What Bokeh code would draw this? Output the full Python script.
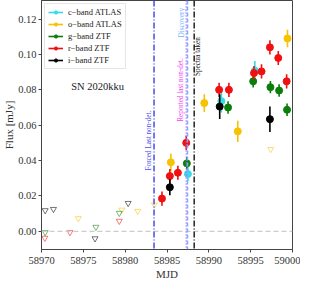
from bokeh.plotting import figure
from bokeh.models import ColumnDataSource, Span, Legend, LegendItem, Range1d, FixedTicker
from bokeh.embed import file_html
from bokeh.resources import INLINE
from bokeh.core.properties import value

# ---- detections (MJD, flux [mJy], error) ----
c_mjd = [58987.5, 58991.5, 58995.5]
c_flux = [0.0324, 0.0736, 0.0908]
c_err = [0.004, 0.0065, 0.0055]

o_mjd = [58985.46, 58989.46, 58993.46, 58999.4]
o_flux = [0.039, 0.0725, 0.0565, 0.109]
o_err = [0.005, 0.005, 0.006, 0.005]

g_mjd = [58987.37, 58992.3, 58995.3, 58997.36, 58998.4, 58999.35]
g_flux = [0.0384, 0.070, 0.0848, 0.0815, 0.0796, 0.0687]
g_err = [0.0035, 0.0035, 0.0035, 0.0035, 0.0035, 0.0035]

r_mjd = [58984.4, 58985.34, 58986.3, 58987.3, 58991.23, 58992.4, 58995.4,
         58996.3, 58997.3, 58998.3, 58999.3]
r_flux = [0.0185, 0.0312, 0.0331, 0.050, 0.080, 0.080, 0.0895, 0.0904,
          0.104, 0.098, 0.0848]
r_err = [0.004, 0.004, 0.004, 0.004, 0.004, 0.004, 0.004, 0.004, 0.004,
         0.004, 0.004]

i_mjd = [58985.34, 58991.3, 58997.3]
i_flux = [0.0249, 0.0705, 0.0634]
i_err = [0.0045, 0.007, 0.0072]

# ---- upper limits ----
o_ul_mjd = [58974.4, 58979.6, 58981.5, 58983.5, 58997.4]
o_ul_flux = [0.0073, 0.0121, 0.0114, 0.0150, 0.0464]
g_ul_mjd = [58970.44, 58976.5, 58979.3]
g_ul_flux = [-0.0006, 0.0024, 0.0103]
r_ul_mjd = [58970.4, 58973.4, 58979.3]
r_ul_flux = [-0.0038, -0.0006, 0.0058]
i_ul_mjd = [58970.44, 58971.43, 58976.4, 58980.36]
i_ul_flux = [0.0118, 0.0125, -0.0041, 0.0159]

band_labels = ["c\u2212band ATLAS", "o\u2212band ATLAS", "g\u2212band ZTF",
               "r\u2212band ZTF", "i\u2212band ZTF"]
band_colors = ["#33dde8", "#f7c200", "#0a7d0a", "#f01010", "#000000"]

# ---- epochs ----
epoch_mjd = [58983.45, 58987.3, 58987.45, 58988.25]
epoch_labels = ["Forced Last non-det.", "Reported last non-det.", "Discovery", "Spectra taken"]
epoch_colors = ["#4b4bea", "#ee44ee", "#6ab4ff", "#222222"]
epoch_dash = ["6 2 1 2", "1 2", "4 2", "6 2 1 2"]
epoch_label_x = [58982.9, 58986.65, 58986.8, 58988.65]
epoch_label_y = [0.0344, 0.0619, 0.1096, 0.0878]

x_ticks = [58970, 58975, 58980, 58985, 58990, 58995, 59000]
y_ticks = [0.00, 0.02, 0.04, 0.06, 0.08, 0.10, 0.12]

FONT = "Liberation Serif"

p = figure(width=300, height=280, output_backend="svg", toolbar_location=None,
           x_range=Range1d(58970, 59000), y_range=Range1d(-0.0103, 0.1305),
           min_border_left=34, min_border_right=8, min_border_top=0, min_border_bottom=30)
p.frame_width = 251
p.frame_height = 249
p.xgrid.visible = False
p.ygrid.visible = False
p.outline_line_color = "#444444"
p.outline_line_width = 1
p.background_fill_color = "white"

for ax in (p.xaxis[0], p.yaxis[0]):
    ax.axis_line_color = "#444444"
    ax.major_tick_line_color = "#444444"
    ax.minor_tick_line_color = None
    ax.major_tick_out = 3
    ax.major_tick_in = 0
    ax.major_label_text_font = FONT
    ax.major_label_text_font_size = "10.5px"
    ax.major_label_text_color = "#333333"
    ax.axis_label_text_font = FONT
    ax.axis_label_text_font_size = "11px"
    ax.axis_label_text_font_style = "normal"
    ax.axis_label_text_color = "#333333"

p.xaxis.ticker = FixedTicker(ticks=x_ticks)
p.yaxis.ticker = FixedTicker(ticks=y_ticks)
p.xaxis.major_label_overrides = {t: str(t) for t in x_ticks}
p.yaxis.major_label_overrides = {t: "%.2f" % t for t in y_ticks}
p.xaxis.axis_label = "MJD"
p.yaxis.axis_label = "Flux [mJy]"
p.xaxis.major_label_standoff = 4
p.yaxis.major_label_standoff = 2
p.xaxis.axis_label_standoff = 1
p.yaxis.axis_label_standoff = 0

# zero line
p.add_layout(Span(location=0, dimension="width", line_color="#cccccc",
                  line_dash="5 3", line_width=1.3))

# epoch lines
for m, c, d in zip(epoch_mjd, epoch_colors, epoch_dash):
    p.add_layout(Span(location=m, dimension="height", line_color=c,
                      line_dash=d, line_width=1.5))

p.text(x=epoch_label_x, y=epoch_label_y, text=epoch_labels, angle=1.5708,
       text_color=epoch_colors, text_font=value(FONT), text_font_size="7.2px",
       text_align="left", text_baseline="middle")

p.text(x=[58976.7], y=[0.0816], text=["SN 2020kku"], text_font=value(FONT),
       text_font_size="10.5px", text_align="center", text_baseline="middle",
       text_color="#222222")

# upper limits
uls = [(o_ul_mjd, o_ul_flux, band_colors[1]), (g_ul_mjd, g_ul_flux, band_colors[2]),
       (r_ul_mjd, r_ul_flux, band_colors[3]), (i_ul_mjd, i_ul_flux, band_colors[4])]
for xs, ys, c in uls:
    p.scatter(xs, ys, marker="inverted_triangle", size=6, fill_color=None,
              line_color=c, line_alpha=0.55, line_width=1)

# detections
bands = [(c_mjd, c_flux, c_err), (o_mjd, o_flux, o_err), (g_mjd, g_flux, g_err),
         (r_mjd, r_flux, r_err), (i_mjd, i_flux, i_err)]
items = []
for (xs, ys, es), c, lab in zip(bands, band_colors, band_labels):
    lo = [y - e for y, e in zip(ys, es)]
    hi = [y + e for y, e in zip(ys, es)]
    seg = p.segment(x0=xs, y0=lo, x1=xs, y1=hi, line_color=c, line_width=1.6)
    sr = p.scatter(xs, ys, marker="circle", size=7, fill_color=c, line_color=c)
    items.append(LegendItem(label=lab, renderers=[seg, sr]))

legend = Legend(items=items, location="top_left", label_text_font=FONT,
                label_text_font_size="8.5px", glyph_width=15, glyph_height=8,
                label_height=8, spacing=2, padding=3, margin=3,
                label_standoff=5, border_line_color="#cccccc",
                background_fill_alpha=0.85, label_text_color="#222222")
p.add_layout(legend)

open("out.html", "w").write(file_html(p, INLINE))
